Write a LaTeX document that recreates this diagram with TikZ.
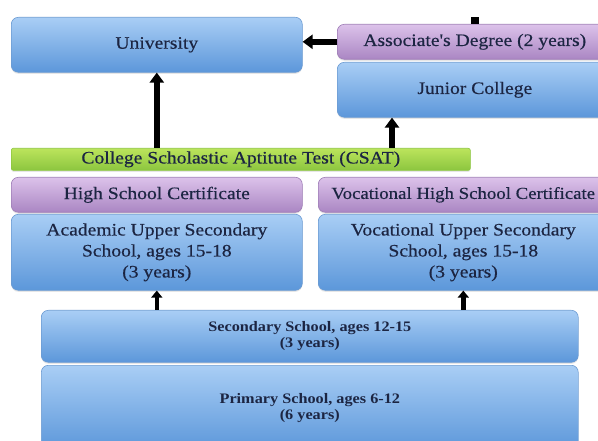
\documentclass[tikz,border=0pt]{standalone}
\usepackage{fontspec}
\setmainfont{Liberation Serif}[FakeStretch=1.12]
\newfontfamily\boxfont{Liberation Serif}[FakeStretch=1.12, FakeBold=0.4]
\usetikzlibrary{arrows.meta,shadows}
\definecolor{ink}{HTML}{1C2542}
\definecolor{bluetop}{HTML}{A9CEF5}
\definecolor{bluebot}{HTML}{5C97DA}
\definecolor{blueedge}{HTML}{6C9BD2}
\definecolor{purptop}{HTML}{DCC2EA}
\definecolor{purpbot}{HTML}{AA86C3}
\definecolor{purpedge}{HTML}{9E7DB6}
\definecolor{greentop}{HTML}{BCE45C}
\definecolor{greenbot}{HTML}{8CC63F}
\newcommand{\bigtext}{\boxfont\fontsize{17.5}{21}\selectfont}
\newcommand{\smalltext}{\fontsize{14.5}{16}\selectfont\bfseries}
\tikzset{
	stage/.style={anchor=north west, rounded corners=7pt, inner sep=0pt, align=center, text=ink,
		top color=bluetop, bottom color=bluebot, draw=blueedge, line width=0.6pt, font=\bigtext,
		drop shadow={opacity=0.2, shadow xshift=0pt, shadow yshift=-1.5pt}},
	cert/.style={stage, top color=purptop, bottom color=purpbot, draw=purpedge},
	exam/.style={stage, rounded corners=2pt, top color=greentop, bottom color=greenbot, draw=greenbot},
	up/.style={line width=5.5pt, -{Triangle[width=14pt,length=10pt]}},
	upsmall/.style={line width=4.5pt, -{Triangle[width=11pt,length=7pt]}}
}
\begin{document}
\begin{tikzpicture}[x=1pt,y=-1pt]
\useasboundingbox (0,0) rectangle (598,441);
\clip (0,0) rectangle (598,441);
% upper level
\node[stage, minimum width=291pt, minimum height=55pt] (univ) at (11,17) {University};
\node[cert, minimum width=275pt, minimum height=35pt] (assoc) at (337,24) {Associate's Degree (2 years)};
\node[stage, minimum width=275pt, minimum height=55pt] (junior) at (337,62) {Junior College};
% exam and certificates
\node[exam, minimum width=459pt, minimum height=22pt] (csat) at (11,148) {College Scholastic Aptitute Test (CSAT)};
\node[cert, minimum width=291pt, minimum height=35pt] (hsc) at (11,177) {High School Certificate};
\node[cert, minimum width=290pt, minimum height=35pt, inner xsep=3pt,
	font=\boxfont\fontsize{16.8}{20}\selectfont] (vhsc) at (318,177) {Vocational High School Certificate};
% upper secondary
\node[stage, minimum width=291pt, minimum height=76pt] (acad) at (11,214) {Academic Upper Secondary\\School, ages 15-18\\(3 years)};
\node[stage, minimum width=290pt, minimum height=76pt] (voc) at (318,214) {Vocational Upper Secondary\\School, ages 15-18\\(3 years)};
% lower levels
\node[stage, minimum width=537pt, minimum height=52pt, font=\smalltext] (sec) at (41,310) {Secondary School, ages 12-15\\(3 years)};
\node[stage, minimum width=537pt, minimum height=85pt, font=\smalltext] (prim) at (41,365) {Primary School, ages 6-12\\(6 years)};
% arrows
\coordinate (jcin) at ([xshift=55pt]junior.south west);
\draw[up] (univ.south |- csat.north) -- (univ.south);
\draw[up] (jcin |- csat.north) -- (jcin);
\draw[up] (assoc.west) -- (univ.east |- assoc.west);
\draw[line width=8pt] (assoc.north) -- ++(0,-7);
\draw[upsmall] (acad.south |- sec.north) -- (acad.south);
\draw[upsmall] (voc.south |- sec.north) -- (voc.south);
\end{tikzpicture}
\end{document}
